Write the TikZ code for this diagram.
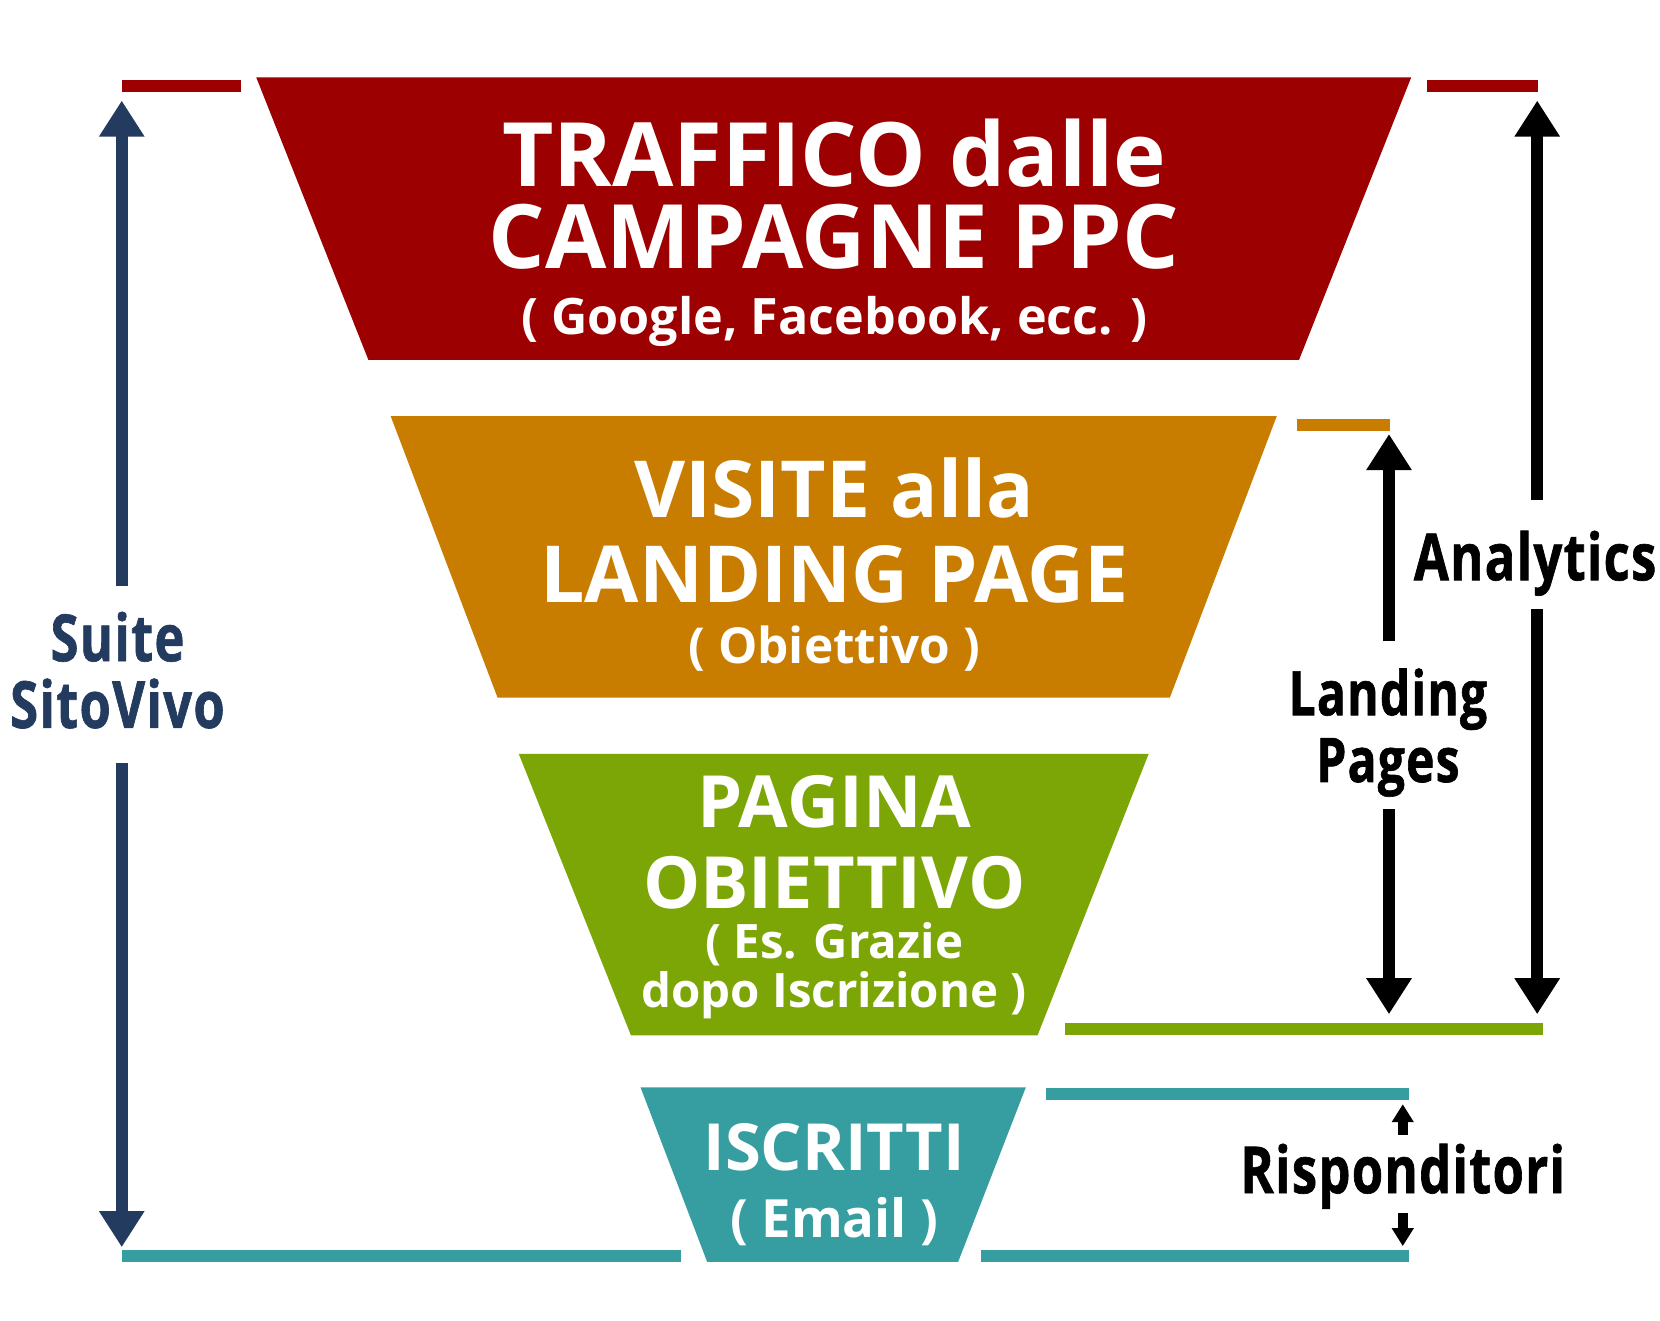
\documentclass[tikz,border=0pt]{standalone}
\usepackage{fontspec}
\setmainfont{Open Sans}
\newfontfamily\stagefont{Open Sans}
\newfontfamily\sidefont{Open Sans}[FakeStretch=0.78,FakeBold=1,LetterSpace=2]
\usepackage{tikz}
\usetikzlibrary{arrows.meta,calc}
\definecolor{ppcred}{HTML}{9C0000}
\definecolor{pageorange}{HTML}{C87C00}
\definecolor{goalgreen}{HTML}{7CA506}
\definecolor{mailteal}{HTML}{369EA0}
\definecolor{suitenavy}{HTML}{233B5F}

\begin{document}
\begin{tikzpicture}[x=0.010587cm,y=-0.010587cm,
  stage/.style={text=white,inner sep=0pt,anchor=base,font=\stagefont\bfseries\fontsize{#1}{#1}\selectfont},
  side/.style={inner sep=0pt,align=center,font=\sidefont\bfseries\fontsize{#1}{19}\selectfont},
  bar/.style={line width=3.4pt},
  bigarr/.style={-{Triangle[width=0.43cm,length=0.36cm]},line width=3.3pt},
  smallarr/.style={-{Triangle[width=0.21cm,length=0.18cm]},line width=2.7pt}]
\useasboundingbox (0,0) rectangle (1568,1247);
% funnel
\foreach \col/\ya/\yb/\xa/\xb/\xc/\xd in {ppcred/73/340/242/1333/1227/348, pageorange/393/659/369/1206/1105/470,
  goalgreen/712/978/490/1085/980/596, mailteal/1027/1192/605/969/905/668}
  \fill[\col] (\xa,\ya) -- (\xb,\ya) -- (\xc,\yb) -- (\xd,\yb) -- cycle;
\node[stage=25.3] (traffico) at (788,176) {TRAFFICO dalle};
\node[stage=25.3] (campagne) at (788,254) {CAMPAGNE PPC};
\node[stage=14.3] (google) at (788,315.5) {( Google, Facebook, ecc. )};
\node[stage=22.4] (visite) at (788,489) {VISITE alla};
\node[stage=22.4] (landing) at (788,569.5) {LANDING PAGE};
\node[stage=14.1] (obiettivo) at (788,627) {( Obiettivo )};
\node[stage=20.5] (pagina) at (788,782) {PAGINA};
\node[stage=20.5] (obiettivob) at (788,858) {OBIETTIVO};
\node[stage=13.5] (grazie) at (788,905) {( Es. Grazie};
\node[stage=13.5] (dopo) at (788,952) {dopo Iscrizione )};
\node[stage=18.5] (iscritti) at (788,1106) {ISCRITTI};
\node[stage=15] (email) at (788,1169) {( Email )};
% level bars
\draw[bar,ppcred] (115,81) -- (228,81); \draw[bar,ppcred] (1348,81) -- (1453,81);
\draw[bar,pageorange] (1225,401) -- (1313,401);
\draw[bar,goalgreen] (1006,972) -- (1457,972);
\draw[bar,mailteal] (988,1033) -- (1331,1033);
\draw[bar,mailteal] (115,1186) -- (643,1186); \draw[bar,mailteal] (927,1186) -- (1331,1186);
% side labels
\node[side=18.5,text=suitenavy] (suite) at (111,633) {Suite\\SitoVivo};
\node[side=18.5,anchor=base] (analytics) at (1450,548) {Analytics};
\node[side=17.5] (lpages) at (1311,692) {Landing\\Pages};
\node[side=18.5,anchor=base] (rispo) at (1325,1127) {Risponditori};
\coordinate (suitetop) at (115,95); \coordinate (suitebot) at (115,1178);
\coordinate (antop) at (1452,95); \coordinate (anbot) at (1452,958);
\coordinate (lptop) at (1312,410); \coordinate (lpbot) at (1312,958);
\coordinate (rstop) at (1325,1043); \coordinate (rsbot) at (1325,1177);
\draw[bigarr,suitenavy,shorten <=7pt] (suite.north -| suitetop) -- (suitetop);
\draw[bigarr,suitenavy,shorten <=9.6pt] (suite.south -| suitebot) -- (suitebot);
\draw[bigarr,shorten <=8.5pt] (analytics.north -| antop) -- (antop);
\draw[bigarr,shorten <=3.6pt] (analytics.south -| anbot) -- (anbot);
\draw[bigarr,shorten <=7.5pt] (lpages.north -| lptop) -- (lptop);
\draw[bigarr,shorten <=3.3pt] (lpages.south -| lpbot) -- (lpbot);
\draw[smallarr,shorten <=2.4pt] (rispo.north -| rstop) -- (rstop);
\draw[smallarr,shorten <=1pt] (rispo.south -| rsbot) -- (rsbot);
\end{tikzpicture}
\end{document}
